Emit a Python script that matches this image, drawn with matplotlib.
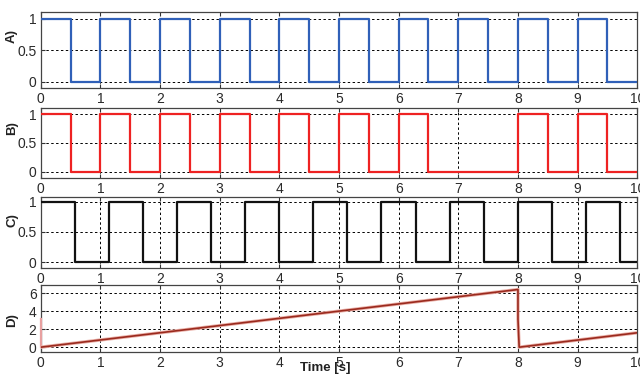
import matplotlib
matplotlib.use("Agg")
import matplotlib.pyplot as plt

plt.rcParams['font.family'] = ['Liberation Sans', 'DejaVu Sans']

# ---- data ----
a_time = [0, 0.5, 1, 1.5, 2, 2.5, 3, 3.5, 4, 4.5, 5, 5.5, 6, 6.5, 7, 7.5, 8, 8.5, 9, 9.5, 10]
a_level = [1, 0, 1, 0, 1, 0, 1, 0, 1, 0, 1, 0, 1, 0, 1, 0, 1, 0, 1, 0, 0]

b_time = [0, 0.5, 1, 1.5, 2, 2.5, 3, 3.5, 4, 4.5, 5, 5.5, 6, 6.5, 8, 8.5, 9, 9.5, 10]
b_level = [1, 0, 1, 0, 1, 0, 1, 0, 1, 0, 1, 0, 1, 0, 1, 0, 1, 0, 0]

c_time = [0, 0.57, 1.14, 1.71, 2.29, 2.86, 3.43, 4.0, 4.57, 5.14, 5.71, 6.29,
          6.86, 7.43, 8.0, 8.57, 9.14, 9.71, 10]
c_level = [1, 0, 1, 0, 1, 0, 1, 0, 1, 0, 1, 0, 1, 0, 1, 0, 1, 0, 0]

d_time = [0, 8.0, 8.0, 8.02, 10]
d_value = [0, 6.4, 3.1, 0, 1.6]
d_spike_time = [0, 0]
d_spike_value = [0, 3.1]

x_ticks = [0, 1, 2, 3, 4, 5, 6, 7, 8, 9, 10]
sq_yticks = [0, 0.5, 1]
sq_yticklabels = ['0', '0.5', '1']
d_yticks = [0, 2, 4, 6]
panel_labels = ['A)', 'B)', 'C)', 'D)']
x_label = 'Time [s]'

# ---- layout ----
fig = plt.figure(figsize=(6.4, 3.76), dpi=100)
W, H = 640.0, 376.0
left, right = 40.7, 637.3
boxes = [(11.7, 88.3), (107.7, 177.7), (196.7, 268.3), (285.0, 351.7)]
label_y = [0.68, 0.71, 0.67, 0.48]

axes = []
for (top, bot) in boxes:
    ax = fig.add_axes([left / W, 1 - bot / H, (right - left) / W, (bot - top) / H])
    axes.append(ax)

grid_kw = dict(color='black', linestyle=(0, (2.5, 2.5)), linewidth=0.7)

def style(ax, yticks, ylabels, ylim, lab, ly):
    ax.set_xlim(0, 10)
    ax.set_ylim(*ylim)
    ax.set_xticks(x_ticks)
    ax.set_xticklabels([str(v) for v in x_ticks])
    ax.set_yticks(yticks)
    ax.set_yticklabels(ylabels)
    ax.tick_params(direction='in', length=3, width=0.8, labelsize=10, pad=3,
                   top=True, right=False, colors='#333333', labelcolor='#2a2a2a')
    ax.grid(True, **grid_kw)
    ax.set_axisbelow(True)
    for s in ax.spines.values():
        s.set_color('#444444')
        s.set_linewidth(0.9)
    ax.set_ylabel(lab, fontsize=9.5, fontweight='bold', color='#222222')
    ax.yaxis.set_label_coords(-0.038, ly)

sq_lim = (-0.105, 1.11)

axes[0].plot(a_time, a_level, drawstyle='steps-post', color='#3060b8', lw=1.6, zorder=3)
style(axes[0], sq_yticks, sq_yticklabels, sq_lim, panel_labels[0], label_y[0])

axes[1].plot(b_time, b_level, drawstyle='steps-post', color='#ee2222', lw=1.6, zorder=3)
style(axes[1], sq_yticks, sq_yticklabels, sq_lim, panel_labels[1], label_y[1])

axes[2].plot(c_time, c_level, drawstyle='steps-post', color='#111111', lw=1.6, zorder=3)
style(axes[2], sq_yticks, sq_yticklabels, (-0.1, 1.08), panel_labels[2], label_y[2])

axes[3].plot(d_spike_time, d_spike_value, color='#e8a0a0', lw=1.6, zorder=3, clip_on=False)
axes[3].plot(d_time, d_value, color='#eab0a8', lw=2.4, zorder=3)
axes[3].plot(d_time, d_value, color='#9b2a1e', lw=1.2, zorder=4)
style(axes[3], d_yticks, [str(v) for v in d_yticks], (-0.5, 6.9), panel_labels[3], label_y[3])

fig.text(325 / W, 1 - 368 / H, x_label, ha='center', va='center',
         fontsize=9.5, fontweight='bold', color='#222222')

fig.savefig('out.png', dpi=100)
